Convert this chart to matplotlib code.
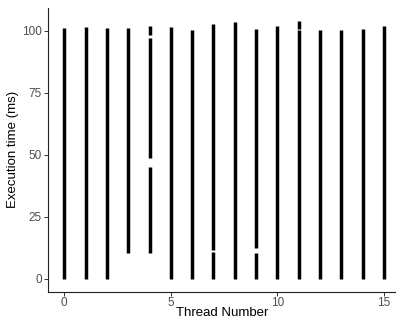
import matplotlib
matplotlib.use("Agg")
import matplotlib.pyplot as plt

# Coverage of execution-time points per thread (segments)
threads = [0, 1, 2, 3, 4, 4, 4, 5, 6, 7, 7, 8, 9, 9, 10, 11, 11, 12, 13, 14, 15]
seg_low = [0.0, 0.0, 0.0, 10.4, 10.4, 48.7, 98.1, 0.0, 0.0, 0.0, 11.5, 0.0, 0.0, 12.6, 0.0, 0.0, 100.7, 0.0, 0.0, 0.0, 0.0]
seg_high = [101.1, 101.5, 101.2, 101.3, 45.0, 96.9, 102.1, 101.7, 100.5, 10.8, 102.8, 103.7, 10.4, 100.8, 102.1, 100.3, 104.1, 100.4, 100.5, 100.8, 101.9]

x_ticks = [0, 5, 10, 15]
y_ticks = [0, 25, 50, 75, 100]

plt.rcParams['font.family'] = ['Liberation Sans', 'DejaVu Sans']

fig = plt.figure(figsize=(3.96, 3.20), dpi=100)
ax = fig.add_axes([0.122, 0.0885, 0.878, 0.8866])

ax.vlines(threads, seg_low, seg_high, colors='black', linewidth=2.5, capstyle='butt')

ax.set_xlim(-0.75, 15.57)
ax.set_ylim(-5.2, 109.2)
ax.set_xticks(x_ticks)
ax.set_yticks(y_ticks)

for s in ['top', 'right']:
    ax.spines[s].set_visible(False)
for s in ['left', 'bottom']:
    ax.spines[s].set_linewidth(0.8)
    ax.spines[s].set_color('#222222')

ax.tick_params(axis='both', length=3, width=0.7, color='#333333',
               labelcolor='#4D4D4D', labelsize=8.5, pad=1.5)
ax.tick_params(axis='x', pad=1)

ax.set_xlabel('Thread Number', fontsize=9.5, color='black', labelpad=-1.5)
ax.set_ylabel('Execution time (ms)', fontsize=9.5, color='black', labelpad=2)

fig.savefig('out.png', dpi=100)
